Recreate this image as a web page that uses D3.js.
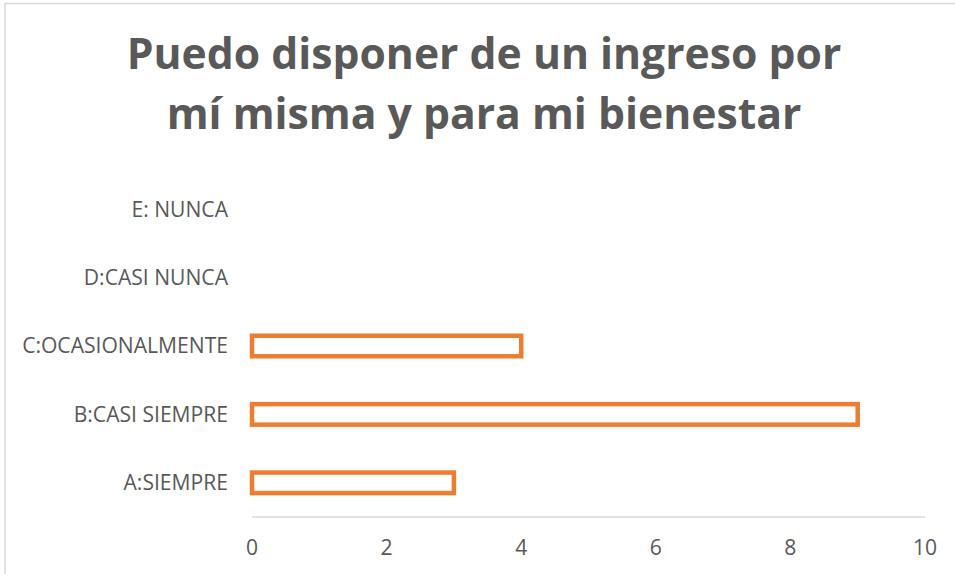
<!DOCTYPE html>
<html>
<head>
<meta charset="utf-8">
<script src="https://cdn.jsdelivr.net/npm/d3@7"></script>
<style>
  html, body { margin: 0; padding: 0; background: #fff; }
  svg { display: block; }
</style>
</head>
<body>
<svg id="chart" width="955" height="574"></svg>
<script>
const titleLines = ["Puedo disponer de un ingreso por", "mí misma y para mi bienestar"];
const categories = ["A:SIEMPRE", "B:CASI SIEMPRE", "C:OCASIONALMENTE", "D:CASI NUNCA", "E: NUNCA"];
const values = [3, 9, 4, 0, 0];
const xTicks = [0, 2, 4, 6, 8, 10];

const svg = d3.select("#chart");
const W = 955, H = 574;
const margin = { left: 252, right: 30, top: 175, bottom: 57 };
const labelFont = "'Open Sans', 'Liberation Sans', sans-serif";
const textColor = "#595959";

// chart border
svg.append("rect")
  .attr("x", 5).attr("y", 3.5)
  .attr("width", W + 10).attr("height", H + 10)
  .attr("fill", "#fff").attr("stroke", "#d9d9d9").attr("stroke-width", 1.5);

// title
const title = svg.append("g");
const tBaselines = [69, 129];
titleLines.forEach((t, i) => {
  title.append("text")
    .attr("x", 484).attr("y", tBaselines[i])
    .attr("text-anchor", "middle")
    .attr("font-family", labelFont)
    .attr("font-weight", "bold")
    .attr("font-size", 40)
    .attr("fill", textColor)
    .text(t);
});
// fit title width to 715px for line 1
(function () {
  const first = title.select("text").node();
  const w = first.getComputedTextLength();
  const fs = 40 * 715 / w;
  title.selectAll("text").attr("font-size", fs);
})();

const x = d3.scaleLinear().domain([0, 10]).range([margin.left, W - margin.right]);
const y = d3.scaleBand().domain(categories.slice().reverse())
  .range([margin.top, H - margin.bottom])
  .paddingInner(0.7).paddingOuter(0.35);

// axis baseline
svg.append("line")
  .attr("x1", x(0)).attr("x2", x(10))
  .attr("y1", H - margin.bottom).attr("y2", H - margin.bottom)
  .attr("stroke", "#d9d9d9").attr("stroke-width", 1.5);

// bars
svg.append("g").selectAll("rect")
  .data(categories.map((c, i) => ({ c, v: values[i] })).filter(d => d.v > 0))
  .join("rect")
  .attr("x", x(0))
  .attr("y", d => y(d.c))
  .attr("width", d => x(d.v) - x(0))
  .attr("height", y.bandwidth())
  .attr("fill", "#fff")
  .attr("stroke", "#ED7D31")
  .attr("stroke-width", 4.5);

// category labels
const catG = svg.append("g");
catG.selectAll("text")
  .data(categories)
  .join("text")
  .attr("x", 228)
  .attr("y", d => y(d) + y.bandwidth() / 2)
  .attr("dy", "0.35em")
  .attr("text-anchor", "end")
  .attr("font-family", labelFont)
  .attr("font-size", 17)
  .attr("fill", textColor)
  .text(d => d);

// fit label font to reference width (C:OCASIONALMENTE ~ 206px)
(function () {
  const node = catG.selectAll("text").filter(d => d === "C:OCASIONALMENTE").node();
  const w = node.getComputedTextLength();
  const fs = 17 * 206 / w;
  catG.selectAll("text").attr("font-size", fs);
  svg.selectAll(".tick-label").attr("font-size", fs);
  window.__fs = fs;
})();

// x tick labels
svg.append("g").selectAll("text")
  .data(xTicks)
  .join("text")
  .attr("class", "tick-label")
  .attr("x", d => x(d))
  .attr("y", 548)
  .attr("dy", "0.35em")
  .attr("text-anchor", "middle")
  .attr("font-family", labelFont)
  .attr("font-size", window.__fs)
  .attr("fill", textColor)
  .text(d => d);
</script>
</body>
</html>
